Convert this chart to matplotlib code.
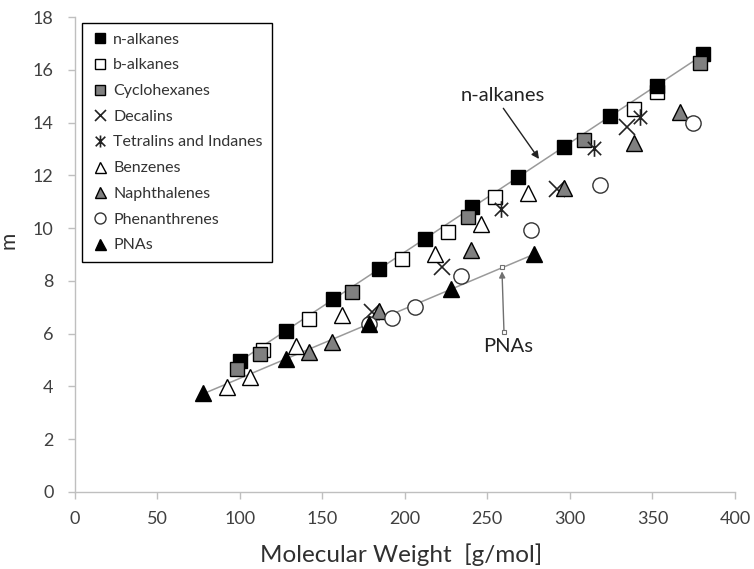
import numpy as np
import matplotlib
matplotlib.use("Agg")
import matplotlib.pyplot as plt
from matplotlib.path import Path

plt.rcParams['font.family'] = ['Lato', 'DejaVu Sans']

# ---- data: molecular weight [g/mol] and segment number m ----
n_alkanes_mw = [100.2, 128.3, 156.3, 184.4, 212.4, 240.5, 268.5, 296.6, 324.6, 352.7, 380.7]
n_alkanes_m = [4.97, 6.11, 7.30, 8.45, 9.59, 10.79, 11.92, 13.08, 14.25, 15.38, 16.60]

b_alkanes_mw = [114.2, 142.3, 198.4, 226.4, 254.5, 338.7, 352.7]
b_alkanes_m = [5.38, 6.54, 8.83, 9.84, 11.19, 14.50, 15.17]

cyclohexanes_mw = [98.2, 112.2, 168.3, 238.5, 308.6, 378.7]
cyclohexanes_m = [4.65, 5.23, 7.57, 10.43, 13.34, 16.24]

decalins_mw = [180.3, 222.4, 292.5, 334.6]
decalins_m = [6.83, 8.54, 11.47, 13.84]

tetralins_mw = [258.4, 314.6, 342.6]
tetralins_m = [10.74, 13.05, 14.20]

benzenes_mw = [92.1, 106.2, 134.2, 162.3, 218.4, 246.4, 274.5]
benzenes_m = [3.97, 4.37, 5.53, 6.71, 9.02, 10.16, 11.34]

naphthalenes_mw = [142.2, 156.2, 184.3, 240.4, 296.5, 338.6, 366.6]
naphthalenes_m = [5.29, 5.70, 6.86, 9.17, 11.51, 13.24, 14.41]

phenanthrenes_mw = [178.2, 192.3, 206.3, 234.3, 276.5, 318.5, 374.6]
phenanthrenes_m = [6.37, 6.61, 7.02, 8.18, 9.93, 11.65, 13.97]

pnas_mw = [78.1, 128.2, 178.2, 228.3, 278.3]
pnas_m = [3.74, 5.03, 6.37, 7.68, 9.02]

series_labels = ['n-alkanes', 'b-alkanes', 'Cyclohexanes', 'Decalins', 'Tetralins and Indanes',
                 'Benzenes', 'Naphthalenes', 'Phenanthrenes', 'PNAs']

x_ticks = [0, 50, 100, 150, 200, 250, 300, 350, 400]
y_ticks = [0, 2, 4, 6, 8, 10, 12, 14, 16, 18]

# ---- figure ----
W, H = 754, 569
fig = plt.figure(figsize=(W / 100, H / 100), dpi=100)
ax = fig.add_axes([74.5 / W, 1 - 492 / H, 660.5 / W, 475 / H])
ax.set_xlim(0, 400)
ax.set_ylim(0, 18)

grey_fill = '#808080'
ms = 10.5
edge = dict(markeredgecolor='black', markeredgewidth=1.0, linestyle='none')

# "Ж"-like marker for tetralins and indanes
ast_path = Path([(0, -1), (0, 1), (-0.8, -0.8), (0.8, 0.8), (-0.8, 0.8), (0.8, -0.8)],
                [Path.MOVETO, Path.LINETO, Path.MOVETO, Path.LINETO, Path.MOVETO, Path.LINETO])

# linear trend lines for n-alkanes and PNAs
for mw, m in [(n_alkanes_mw, n_alkanes_m), (pnas_mw, pnas_m)]:
    k, b = np.polyfit(mw, m, 1)
    xs = np.array([min(mw), max(mw)])
    ax.plot(xs, k * xs + b, color='#9a9a9a', lw=1.1, zorder=1)

h_b, = ax.plot(b_alkanes_mw, b_alkanes_m, marker='s', ms=ms, markerfacecolor='white', **edge, zorder=3)
h_n, = ax.plot(n_alkanes_mw, n_alkanes_m, marker='s', ms=ms, markerfacecolor='black', **edge, zorder=3)
h_c, = ax.plot(cyclohexanes_mw, cyclohexanes_m, marker='s', ms=ms, markerfacecolor=grey_fill, **edge, zorder=3)
h_d, = ax.plot(decalins_mw, decalins_m, marker='x', ms=11, markeredgecolor='#222222',
               markeredgewidth=1.2, linestyle='none', zorder=3)
h_t, = ax.plot(tetralins_mw, tetralins_m, marker=ast_path, ms=12, markeredgecolor='#222222',
               markerfacecolor='none', markeredgewidth=1.2, linestyle='none', zorder=3)
h_bz, = ax.plot(benzenes_mw, benzenes_m, marker='^', ms=11, markerfacecolor='white', **edge, zorder=3)
h_np, = ax.plot(naphthalenes_mw, naphthalenes_m, marker='^', ms=11, markerfacecolor=grey_fill, **edge, zorder=3)
h_ph, = ax.plot(phenanthrenes_mw, phenanthrenes_m, marker='o', ms=11, markerfacecolor='white',
                markeredgecolor='#333333', markeredgewidth=1.0, linestyle='none', zorder=3)
h_p, = ax.plot(pnas_mw, pnas_m, marker='^', ms=11, markerfacecolor='black', **edge, zorder=4)

# ---- axes styling ----
for s in ['top', 'right']:
    ax.spines[s].set_visible(False)
for s in ['left', 'bottom']:
    ax.spines[s].set_color('#bfbfbf')
    ax.spines[s].set_linewidth(1.0)
ax.set_xticks(x_ticks)
ax.set_yticks(y_ticks)
ax.tick_params(axis='both', colors='#bfbfbf', length=5, width=1.0, labelsize=13,
               labelcolor='#404040')
ax.tick_params(axis='x', pad=9)
ax.tick_params(axis='y', pad=10)

ax.set_xlabel('Molecular Weight  [g/mol]', fontsize=17.5, color='#303030')
ax.xaxis.set_label_coords(0.495, -(543 - 492) / 475)
ax.set_ylabel('m', fontsize=15, color='#303030')
ax.yaxis.set_label_coords(-(74.5 - 19) / 660.5, 0.53)

# ---- annotations ----
ax.annotate('', xy=(281.3, 12.62), xytext=(259.7, 14.54),
            arrowprops=dict(arrowstyle='-|>', color='#222222', lw=1.0, mutation_scale=11,
                            shrinkA=0, shrinkB=0))
ax.text(259.5, 15.04, 'n-alkanes', fontsize=14.5, color='#222222', ha='center', va='center')

ax.annotate('', xy=(258.9, 8.36), xytext=(260.1, 6.06),
            arrowprops=dict(arrowstyle='-|>', color='#707070', lw=1.0, mutation_scale=9,
                            shrinkA=0, shrinkB=0))
ax.plot([258.9, 260.1], [8.52, 6.06], marker='s', ms=3.5, markerfacecolor='white',
        markeredgecolor='#707070', markeredgewidth=0.8, linestyle='none', zorder=5)
ax.text(262.6, 5.50, 'PNAs', fontsize=14.5, color='#222222', ha='center', va='center')

# ---- legend ----
handles = [h_n, h_b, h_c, h_d, h_t, h_bz, h_np, h_ph, h_p]
leg = fig.legend(handles, series_labels, loc='upper left',
                 bbox_to_anchor=(82 / W, 1 - 23 / H), bbox_transform=fig.transFigure,
                 borderaxespad=0, fancybox=False, edgecolor='black', framealpha=1,
                 fontsize=11.5, markerscale=0.72, handlelength=1.1, handletextpad=0.25,
                 labelspacing=0.72, borderpad=0.6, numpoints=1)
leg.get_frame().set_linewidth(1.0)
for t in leg.get_texts():
    t.set_color('#333333')

fig.savefig('out.png', dpi=100)
